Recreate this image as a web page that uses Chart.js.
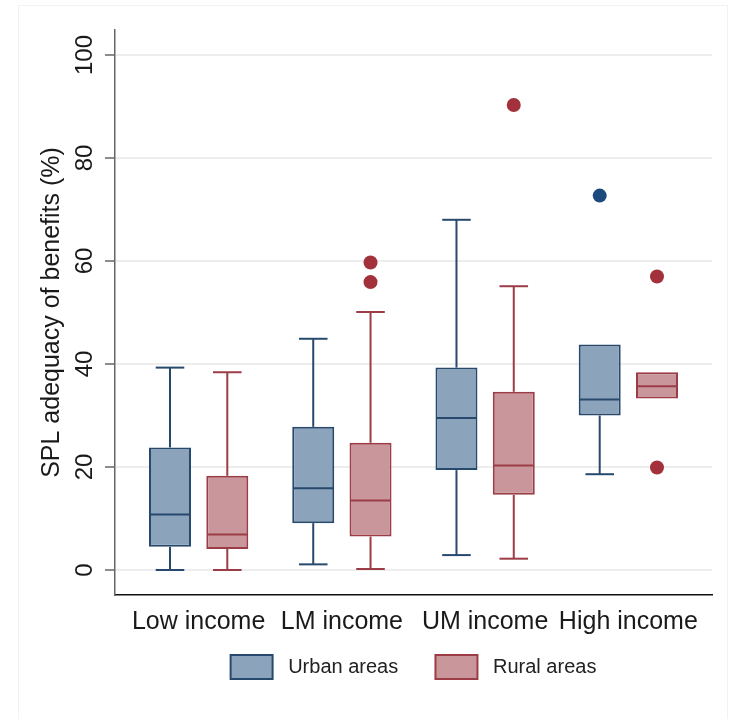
<!DOCTYPE html>
<html>
<head>
<meta charset="utf-8">
<script src="https://cdn.jsdelivr.net/npm/chart.js@4.4.1/dist/chart.umd.min.js"></script>
<style>
  html, body { margin: 0; padding: 0; background: #ffffff; }
  #wrap { width: 729px; height: 719px; position: relative; }
</style>
</head>
<body>
<div id="wrap"><canvas id="c" width="729" height="719"></canvas></div>
<script>
// ---- Data ----
const categories = ['Low income', 'LM income', 'UM income', 'High income'];
const seriesNames = ['Urban areas', 'Rural areas'];

const urbanMin    = [0.0, 1.1, 2.9, 18.6];
const urbanQ1     = [4.5, 9.1, 19.4, 30.0];
const urbanMedian = [10.8, 15.9, 29.5, 33.1];
const urbanQ3     = [23.8, 27.8, 39.3, 43.8];
const urbanMax    = [39.3, 44.9, 68.0, 43.8];
const urbanOutliers = [[], [], [], [72.7]];

const ruralMin    = [0.0, 0.2, 2.2, 33.3];
const ruralQ1     = [4.1, 6.5, 14.6, 33.3];
const ruralMedian = [6.9, 13.5, 20.3, 35.7];
const ruralQ3     = [18.3, 24.7, 34.6, 38.4];
const ruralMax    = [38.4, 50.1, 55.1, 38.4];
const ruralOutliers = [[], [55.9, 59.7], [90.3], [19.9, 57.0]];

const yTicks = [0, 20, 40, 60, 80, 100];

// ---- Styling ----
const FONT = "'Liberation Sans', Arial, Helvetica, sans-serif";
const URBAN_FILL = '#8ba3bb', URBAN_LINE = '#27496d', URBAN_DOT = '#1d4a7c';
const RURAL_FILL = '#c9979b', RURAL_LINE = '#9b3c46', RURAL_DOT = '#a2313b';
const CAT_PCT = 0.8;
const SIDE = CAT_PCT / 4; // offset of each box centre from its group centre (x units)

function boxes(q1, q3, med, mn, mx) {
  return categories.map((c, i) => ({ x: i + 1, y: [q1[i], q3[i]], median: med[i], min: mn[i], max: mx[i] }));
}
function dots(list, shift) {
  return list.flatMap((arr, i) => arr.map(v => ({ x: i + 1 + shift, y: v })));
}

const whiskerPlugin = {
  id: 'whiskers',
  afterDatasetDraw(chart, args) {
    const ds = chart.data.datasets[args.index];
    if (ds.type === 'scatter') return;
    const ys = chart.scales.y;
    const ctx = chart.ctx;
    ctx.save();
    ctx.strokeStyle = ds.borderColor;
    ctx.lineWidth = 2;
    ctx.lineCap = 'butt';
    const line = (x1, y1, x2, y2) => { ctx.beginPath(); ctx.moveTo(x1, y1); ctx.lineTo(x2, y2); ctx.stroke(); };
    args.meta.data.forEach((bar, i) => {
      const d = ds.data[i];
      const { x, width } = bar.getProps(['x', 'width'], true);
      const half = width / 2 - 1;
      const cap = width * 0.34;
      const pQ1 = ys.getPixelForValue(d.y[0]);
      const pQ3 = ys.getPixelForValue(d.y[1]);
      const pMed = ys.getPixelForValue(d.median);
      line(x - half, pMed, x + half, pMed);
      if (d.max > d.y[1]) {
        const pMax = ys.getPixelForValue(d.max);
        line(x, pQ3, x, pMax);
        line(x - cap, pMax, x + cap, pMax);
      }
      if (d.min < d.y[0]) {
        const pMin = ys.getPixelForValue(d.min);
        line(x, pQ1, x, pMin);
        line(x - cap, pMin, x + cap, pMin);
      }
    });
    ctx.restore();
  }
};

const framePlugin = {
  id: 'frame',
  beforeDraw(chart) {
    const ctx = chart.ctx;
    ctx.save();
    ctx.fillStyle = '#ffffff';
    ctx.fillRect(0, 0, chart.width, chart.height);
    ctx.strokeStyle = '#f2f2f2';
    ctx.lineWidth = 1;
    ctx.strokeRect(18.5, 5.5, chart.width - 20, chart.height - 4);
    ctx.restore();
  }
};

const defaultLegendLabels = Chart.defaults.plugins.legend.labels.generateLabels;

new Chart(document.getElementById('c'), {
  type: 'bar',
  data: {
    datasets: [
      {
        label: seriesNames[0],
        data: boxes(urbanQ1, urbanQ3, urbanMedian, urbanMin, urbanMax),
        backgroundColor: URBAN_FILL, borderColor: URBAN_LINE, borderWidth: 2, borderSkipped: false,
        categoryPercentage: CAT_PCT, barPercentage: 0.733
      },
      {
        label: seriesNames[1],
        data: boxes(ruralQ1, ruralQ3, ruralMedian, ruralMin, ruralMax),
        backgroundColor: RURAL_FILL, borderColor: RURAL_LINE, borderWidth: 2, borderSkipped: false,
        categoryPercentage: CAT_PCT, barPercentage: 0.733
      },
      {
        type: 'scatter', label: 'Urban outliers',
        data: dots(urbanOutliers, -SIDE),
        backgroundColor: URBAN_DOT, borderWidth: 0, pointRadius: 7
      },
      {
        type: 'scatter', label: 'Rural outliers',
        data: dots(ruralOutliers, SIDE),
        backgroundColor: RURAL_DOT, borderWidth: 0, pointRadius: 7
      }
    ]
  },
  options: {
    responsive: false,
    animation: false,
    devicePixelRatio: 1,
    layout: { padding: { left: 0, top: 30, right: 17, bottom: 30 } },
    plugins: {
      tooltip: { enabled: false },
      legend: {
        position: 'bottom', fullSize: false, align: 'center',
        labels: {
          boxWidth: 42, boxHeight: 24, padding: 15, color: '#222',
          font: { size: 20, family: FONT },
          generateLabels: chart => defaultLegendLabels(chart)
            .filter(item => item.datasetIndex < 2)
            .map((item, k) => Object.assign(item, { text: ' ' + item.text + (k === 0 ? '    ' : '') }))
        }
      }
    },
    scales: {
      x: {
        type: 'linear', offset: false,
        min: 0.416, max: 4.584,
        afterBuildTicks: s => { s.ticks = categories.map((c, i) => ({ value: i + 1 })); },
        afterFit: s => { s.height = 45; },
        grid: { display: false, drawTicks: false },
        border: { display: true, color: '#111', width: 1.5 },
        ticks: {
          callback: v => categories[v - 1],
          autoSkip: false, maxRotation: 0, minRotation: 0, padding: 12,
          color: '#1a1a1a', font: { size: 25, family: FONT }
        }
      },
      y: {
        min: -4.85, max: 104.85,
        afterBuildTicks: s => { s.ticks = yTicks.map(v => ({ value: v })); },
        afterFit: s => { s.width = 115; },
        grid: { color: '#ededed', lineWidth: 2, drawTicks: true, tickLength: 10, tickColor: '#666', tickWidth: 1.5 },
        border: { display: true, color: '#666', width: 1.5 },
        ticks: {
          minRotation: 90, maxRotation: 90, crossAlign: 'center', padding: 0,
          color: '#1a1a1a', font: { size: 24, family: FONT }
        },
        title: {
          display: true, text: 'SPL adequacy of benefits (%)', color: '#1a1a1a',
          font: { size: 25, family: FONT }, padding: { top: 37, bottom: 0 }
        }
      }
    }
  },
  plugins: [framePlugin, whiskerPlugin]
});
</script>
</body>
</html>
